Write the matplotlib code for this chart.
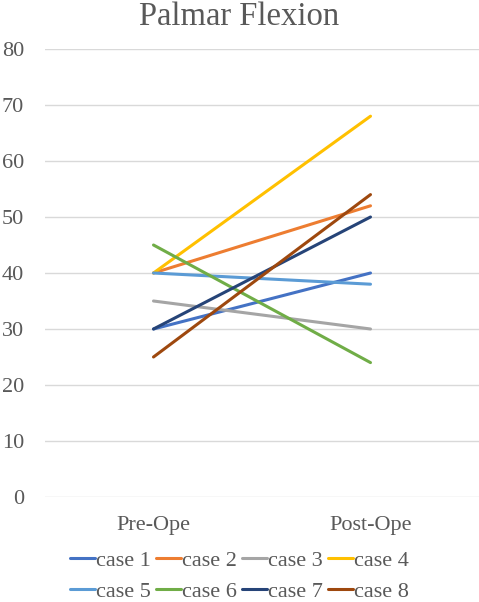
import matplotlib
matplotlib.use("Agg")
import matplotlib.pyplot as plt

# dados do grafico
etapas = ["Pre-Ope", "Post-Ope"]
casos = ["case 1", "case 2", "case 3", "case 4", "case 5", "case 6", "case 7", "case 8"]
pre_ope = [30, 40, 35, 40, 40, 45, 30, 25]
post_ope = [40, 52, 30, 68, 38, 24, 50, 54]
cores = ["#4472C4", "#ED7D31", "#A5A5A5", "#FFC000",
         "#5B9BD5", "#70AD47", "#264478", "#9E480E"]

plt.rcParams["font.family"] = ["Liberation Serif", "DejaVu Serif"]
texto = "#595959"

fig = plt.figure(figsize=(4.79, 6.02), dpi=100)
ax = fig.add_axes([45 / 479, 1 - 497 / 602, 434 / 479, 448 / 602])

x = list(range(len(etapas)))
linhas = []
for nome, a, b, c in zip(casos, pre_ope, post_ope, cores):
    l, = ax.plot(x, [a, b], color=c, lw=2.2, label=nome, solid_capstyle="round")
    linhas.append(l)

ax.set_xlim(-0.5, 1.5)
ax.set_ylim(0, 80)
ax.set_yticks(range(0, 81, 10))
ax.set_xticks(x)
ax.set_xticklabels(etapas)
ax.grid(axis="y", color="#D9D9D9", lw=1)
ax.set_axisbelow(True)
for s in ax.spines.values():
    s.set_visible(False)
ax.tick_params(length=0, labelsize=16, colors=texto)
ax.tick_params(axis="y", pad=15)
ax.tick_params(axis="x", pad=14)

fig.text(0.5, 1 - 17 / 602, "Palmar Flexion", ha="center", va="center",
         fontsize=23.5, color=texto)

# legenda preenchida por linha (como no Excel)
ordem = [0, 4, 1, 5, 2, 6, 3, 7]
leg = fig.legend([linhas[i] for i in ordem], [casos[i] for i in ordem],
                 loc="center", bbox_to_anchor=(0.5, 1 - 576 / 602), ncol=4,
                 frameon=False, fontsize=16, handlelength=1.15, handletextpad=0.05,
                 columnspacing=0.2, labelspacing=0.45, labelcolor=texto)

fig.savefig("out.png", dpi=100)
